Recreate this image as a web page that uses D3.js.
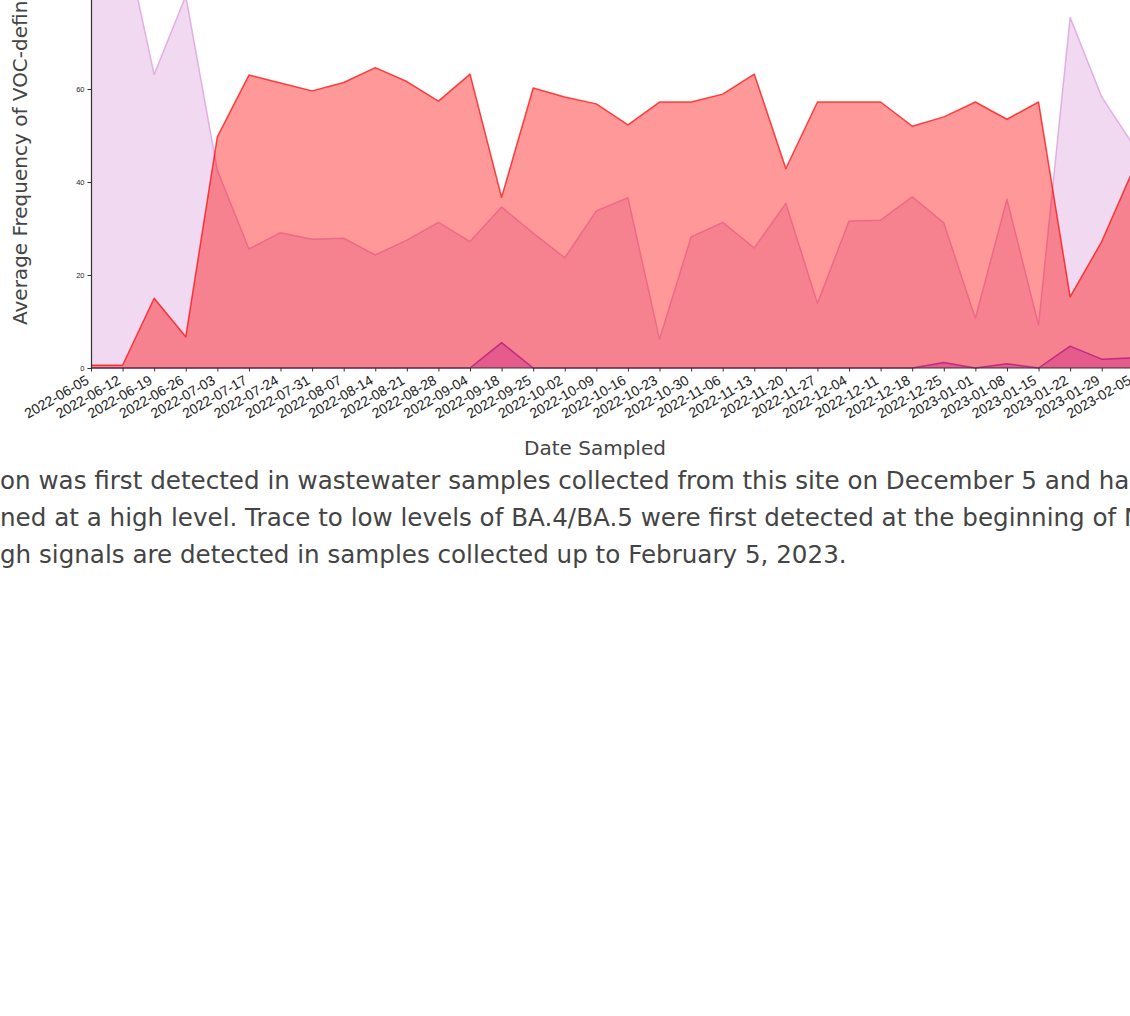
<!DOCTYPE html>
<html>
<head>
<meta charset="utf-8">
<script src="https://cdn.jsdelivr.net/npm/d3@7"></script>
<style>
  body { margin: 0; background: #fff; overflow: hidden; }
  svg { display: block; font-family: "DejaVu Sans", sans-serif; }
</style>
</head>
<body>
<svg id="chart" width="1130" height="1016"></svg>
<script>
// Sample dates (categorical, one per sample)
const dates = ["2022-06-05", "2022-06-12", "2022-06-19", "2022-06-26", "2022-07-03", "2022-07-17",
    "2022-07-24", "2022-07-31", "2022-08-07", "2022-08-14", "2022-08-21", "2022-08-28",
    "2022-09-04", "2022-09-18", "2022-09-25", "2022-10-02", "2022-10-09", "2022-10-16",
    "2022-10-23", "2022-10-30", "2022-11-06", "2022-11-13", "2022-11-20", "2022-11-27",
    "2022-12-04", "2022-12-11", "2022-12-18", "2022-12-25", "2023-01-01", "2023-01-08",
    "2023-01-15", "2023-01-22", "2023-01-29", "2023-02-05"];

// Average frequency per variant (%)
const variantA = [98.5, 94.5, 63.1, 80.0, 42.5, 25.6, 29.1, 27.7, 27.9, 24.3, 27.5, 31.3,
    27.2, 34.6, 29.0, 23.7, 33.8, 36.6, 6.2, 28.2, 31.3, 25.8, 35.4, 13.9,
    31.6, 31.8, 36.8, 31.2, 10.7, 36.3, 9.2, 75.4, 58.3, 47.9];
const variantB = [0.6, 0.6, 15.0, 6.7, 49.7, 63.0, 61.3, 59.6, 61.4, 64.6, 61.6, 57.4,
    63.2, 36.7, 60.2, 58.3, 56.8, 52.3, 57.2, 57.2, 58.9, 63.2, 42.9, 57.2,
    57.2, 57.2, 52.0, 54.0, 57.2, 53.5, 57.2, 15.3, 27.2, 42.7];
const variantC = [0, 0, 0, 0, 0, 0, 0, 0, 0, 0, 0, 0,
    0, 5.45, 0, 0, 0, 0, 0, 0, 0, 0, 0, 0,
    0, 0, 0, 1.2, 0, 0.9, 0, 4.7, 1.9, 2.2];

const yTicks = [0, 20, 40, 60, 80, 100];

const captionLines = [
    "on was first detected in wastewater samples collected from this site on December 5 and has",
    "ned at a high level. Trace to low levels of BA.4/BA.5 were first detected at the beginning of May",
    "gh signals are detected in samples collected up to February 5, 2023."
];

const svg = d3.select("#chart");

// Plot area (top and right run past the window)
const x = d3.scalePoint().domain(dates).range([91, 1133.3]);
const y = d3.scaleLinear().domain([0, 100]).range([368, -97]);

const area = function (vals) {
    return d3.area()
        .x(function (d, i) { return x(dates[i]); })
        .y0(y(0))
        .y1(function (d) { return y(d); })(vals);
};
const line = function (vals) {
    return d3.line()
        .x(function (d, i) { return x(dates[i]); })
        .y(function (d) { return y(d); })(vals);
};

const series = [
    { values: variantA, fill: "#dda0dd", fillOp: 0.4, stroke: "#dda0dd", strokeOp: 0.8 },
    { values: variantB, fill: "#ff0000", fillOp: 0.4, stroke: "#ff0000", strokeOp: 0.7 },
    { values: variantC, fill: "#c71585", fillOp: 0.35, stroke: "#b0157a", strokeOp: 0.75 }
];

series.forEach(function (s) {
    svg.append("path")
        .attr("d", area(s.values))
        .attr("fill", s.fill)
        .attr("fill-opacity", s.fillOp);
    svg.append("path")
        .attr("d", line(s.values))
        .attr("fill", "none")
        .attr("stroke", s.stroke)
        .attr("stroke-opacity", s.strokeOp)
        .attr("stroke-width", 1.5)
        .attr("stroke-linejoin", "round");
});

// Axes
const xAxis = svg.append("g")
    .attr("transform", "translate(0," + y(0) + ")")
    .call(d3.axisBottom(x).tickSize(3.5).tickSizeOuter(0).tickPadding(3));
xAxis.select(".domain").attr("stroke", "#333").attr("stroke-width", 1.2)
    .attr("d", "M91,0H1140");
xAxis.selectAll(".tick line").attr("stroke", "#333");
xAxis.selectAll(".tick text")
    .attr("font-size", 14)
    .attr("fill", "#222")
    .attr("text-anchor", "end")
    .attr("dy", null)
    .attr("y", null)
    .attr("transform", "translate(-1.5,15) rotate(-30)");

const yAxis = svg.append("g")
    .attr("transform", "translate(91,0)")
    .call(d3.axisLeft(y).tickValues(yTicks).tickSize(3.5).tickSizeOuter(0).tickPadding(3));
yAxis.select(".domain").attr("stroke", "#333").attr("stroke-width", 1.2);
yAxis.selectAll(".tick line").attr("stroke", "#333");
yAxis.selectAll(".tick text").attr("font-size", 7.5).attr("fill", "#222");

// Axis titles
svg.append("text")
    .attr("x", 595)
    .attr("y", 455)
    .attr("text-anchor", "middle")
    .attr("font-size", 20)
    .attr("fill", "#444")
    .text("Date Sampled");

svg.append("text")
    .attr("transform", "translate(27,325) rotate(-90)")
    .attr("text-anchor", "start")
    .attr("font-size", 20)
    .attr("fill", "#444")
    .text("Average Frequency of VOC-defining Mutations (%)");

// Caption paragraph below the chart
svg.selectAll(".caption")
    .data(captionLines)
    .join("text")
    .attr("class", "caption")
    .attr("x", 0)
    .attr("y", function (d, i) { return 489 + i * 37; })
    .attr("font-size", 24.6)
    .attr("fill", "#444")
    .text(function (d) { return d; });
</script>
</body>
</html>
